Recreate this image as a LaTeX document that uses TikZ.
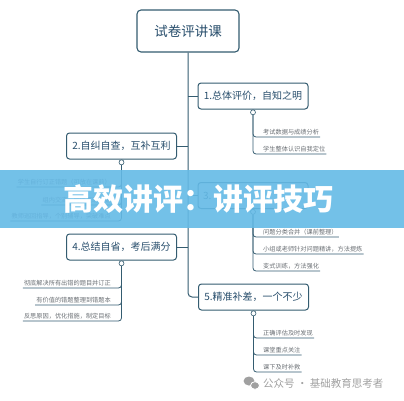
\documentclass[tikz,border=0pt]{standalone}
\usepackage{fontspec}
\setmainfont{Noto Sans CJK SC}
\usetikzlibrary{positioning,calc}

\definecolor{boxline}{RGB}{52,92,112}
\definecolor{boxtext}{RGB}{40,78,108}
\definecolor{itemtext}{RGB}{105,110,115}
\definecolor{banner}{RGB}{100,186,230}
\definecolor{markgray}{RGB}{160,160,160}

\tikzset{
  rootbox/.style={draw=boxline, line width=1.1pt, rounded corners=4pt, fill=white,
    minimum width=102pt, minimum height=42pt, text=boxtext, font=\fontsize{13.5}{14}\selectfont},
  branchbox/.style={draw=boxline, line width=1pt, rounded corners=3pt, fill=white,
    minimum width=110pt, minimum height=26pt, text=boxtext, font=\fontsize{10}{11}\selectfont},
  dot/.style={circle, draw=boxline, fill=white, inner sep=0pt, minimum size=5pt, line width=0.6pt},
  item/.style={inner xsep=1pt, inner ysep=2pt, text=itemtext, font=\fontsize{6.2}{7}\selectfont},
  link/.style={draw=boxline, line width=1pt, rounded corners=4pt},
  sublink/.style={draw=boxline, line width=0.8pt, rounded corners=3pt},
}

\begin{document}
\begin{tikzpicture}[x=1pt, y=-1pt]
  \useasboundingbox (0,0) rectangle (404,400);

  % Root
  \node[rootbox] (root) at (188,31) {试卷评讲课};

  % Branches
  \node[branchbox] (b1) at (253,96)    {1.总体评价，自知之明};
  \node[branchbox] (b2) at (121.5,146) {2.自纠自查，互补互利};
  \node[branchbox, text width=100pt, align=left] (b3) at (253,195.5) {3.};
  \node[branchbox] (b4) at (121.5,247) {4.总结自省，考后满分};
  \node[branchbox] (b5) at (253.5,297) {5.精准补差，一个不少};

  % Trunk
  \draw[link] (root.south) |- (b5.west);
  \draw[link] (b1.west) -- (b1.west -| root.south);
  \draw[link] (b2.east) -- (b2.east -| root.south);
  \draw[link] (b3.west) -- (b3.west -| root.south);
  \draw[link] (b4.east) -- (b4.east -| root.south);

  % Dots
  \foreach \b in {1,...,5} {
    \node[dot, below=0pt of b\b] (d\b) {};
  }

  % Items of branch 1
  \foreach \ly/\txt [count=\i] in {137/考试数据与成绩分析, 154/学生整体认识自我定位} {
    \node[item, anchor=south west] (b1-\i) at (262,\ly) {\txt};
    \draw[sublink] (d1.south) |- (b1-\i.south east);
  }

  % Items of branch 2
  \foreach \ly/\txt [count=\i] in {187/学生自行订正错题（可放在课前）, 205/组内交流，同伴互助纠错, 221/教师巡回指导，个别辅导，突破难点} {
    \node[item, anchor=south east] (b2-\i) at (112,\ly) {\txt};
    \draw[sublink] (d2.south) |- (b2-\i.south west);
  }

  % Items of branch 3
  \foreach \ly/\txt [count=\i] in {237/问题分类合并（课前整理）, 254/小组或老师针对问题精讲，方法提炼, 271/变式训练，方法强化} {
    \node[item, anchor=south west] (b3-\i) at (262,\ly) {\txt};
    \draw[sublink] (d3.south) |- (b3-\i.south east);
  }

  % Items of branch 4
  \foreach \ly/\txt [count=\i] in {288/彻底解决所有出错的题目并订正, 305/有价值的错题整理到错题本, 321/反思原因，优化措施，制定目标} {
    \node[item, anchor=south east] (b4-\i) at (112,\ly) {\txt};
    \draw[sublink] (d4.south) |- (b4-\i.south west);
  }

  % Items of branch 5
  \foreach \ly/\txt [count=\i] in {338/正确评估及时发现, 355/课堂重点关注, 372/课下及时补救} {
    \node[item, anchor=south west] (b5-\i) at (262,\ly) {\txt};
    \draw[sublink] (d5.south) |- (b5-\i.south east);
  }

  % Banner
  \fill[banner, opacity=0.9] (0,170) rectangle (404,228);
  \node[text=white, font=\fontsize{30}{32}\selectfont\bfseries] (title) at (198,199) {高效讲评：讲评技巧};

  % Watermark
  \fill[markgray] (249,381) ellipse (5.5 and 4.5);
  \fill[markgray, draw=white, line width=0.8pt] (255,385.5) ellipse (4.5 and 3.8);
  \node[anchor=west, text=markgray, font=\fontsize{10.5}{11}\selectfont, inner sep=0pt] (wm) at (263,383) {公众号 · 基础教育思考者};
\end{tikzpicture}
\end{document}
